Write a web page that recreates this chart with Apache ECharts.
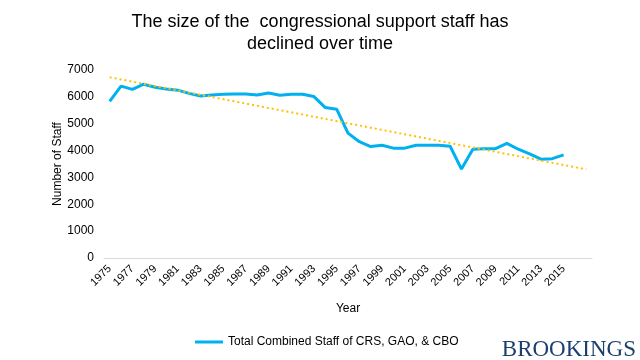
<!DOCTYPE html>
<html>
<head>
<meta charset="utf-8">
<script src="https://cdn.jsdelivr.net/npm/echarts@6/dist/echarts.min.js"></script>
<style>html,body{margin:0;padding:0;background:#fff;}#c{width:640px;height:360px;}</style>
</head>
<body>
<div id="c"></div>
<script>
const years = ['1975','1976','1977','1978','1979','1980','1981','1982','1983','1984','1985','1986','1987','1988','1989','1990','1991','1992','1993','1994','1995','1996','1997','1998','1999','2000','2001','2002','2003','2004','2005','2006','2007','2008','2009','2010','2011','2012','2013','2014','2015','2016','2017'];
const staff = [5830,6400,6280,6470,6360,6290,6250,6130,6030,6070,6100,6110,6110,6070,6140,6060,6100,6100,6010,5600,5540,4650,4330,4150,4200,4090,4090,4200,4200,4200,4160,3310,4050,4070,4070,4270,4050,3880,3680,3700,3840];
const trendYears = ['1975','2017'];
const trendValues = [6730,3300];
const seriesName = 'Total Combined Staff of CRS, GAO, & CBO';

const chart = echarts.init(document.getElementById('c'), null, {renderer:'canvas'});
const font = 'Liberation Sans, Arial, sans-serif';
chart.setOption({
  animation: false,
  backgroundColor: '#fff',
  title: {
    text: 'The size of the  congressional support staff has\ndeclined over time',
    left: 'center', top: 6,
    textStyle: {fontFamily: font, fontSize: 18, fontWeight: 'normal', color: '#000', lineHeight: 22}
  },
  graphic: [{
    type: 'text', right: 4, bottom: -1,
    style: {text: 'BROOKINGS', fontFamily: 'Liberation Serif, DejaVu Serif, serif', fontSize: 23, fill: '#1d3f6e'}
  }],
  legend: {
    data: [seriesName], left: 190, top: 331,
    icon: 'rect', itemWidth: 28, itemHeight: 3, itemGap: 2,
    textStyle: {fontFamily: font, fontSize: 12, color: '#000'}
  },
  grid: {left: 104, right: 48, top: 70, bottom: 102},
  xAxis: {
    type: 'category', data: years, boundaryGap: true,
    name: 'Year', nameLocation: 'middle', nameGap: 45, nameMoveOverlap: false,
    nameTextStyle: {fontFamily: font, fontSize: 12, color: '#000'},
    axisLine: {lineStyle: {color: '#d9d9d9'}},
    axisTick: {show: false},
    axisLabel: {
      rotate: 45, fontFamily: font, fontSize: 11, color: '#000', margin: 9,
      interval: function(i, v){ return i % 2 === 0 && v !== '2017'; }
    }
  },
  yAxis: {
    type: 'value', min: 0, max: 7000, interval: 1000,
    name: 'Number of Staff', nameLocation: 'middle', nameGap: 40, nameMoveOverlap: false,
    nameTextStyle: {fontFamily: font, fontSize: 12, color: '#000'},
    axisLine: {show: false}, axisTick: {show: false},
    splitLine: {show: false},
    axisLabel: {fontFamily: font, fontSize: 12, color: '#000', margin: 10, formatter: function(v){ return String(v); }}
  },
  series: [{
    name: seriesName, type: 'line', data: staff,
    symbol: 'none', lineStyle: {color: '#00b0f0', width: 3}, itemStyle: {color: '#00b0f0'}
  }, {
    name: 'Trend', type: 'line',
    data: trendYears.map((y, i) => [y, trendValues[i]]),
    symbol: 'none', lineStyle: {color: '#ffc000', width: 2, type: [2, 3]}, z: 3
  }]
});
</script>
</body>
</html>
